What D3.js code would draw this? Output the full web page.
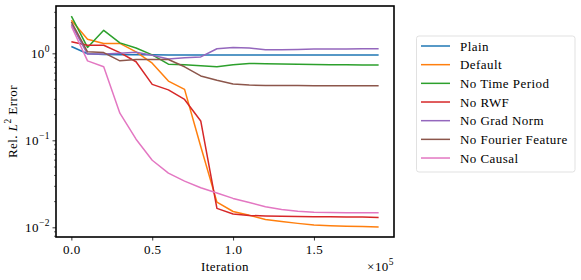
<!DOCTYPE html>
<html>
<head>
<meta charset="utf-8">
<script src="https://cdn.jsdelivr.net/npm/d3@7"></script>
<style>
  body { margin: 0; background: #fff; }
  svg text { font-family: "Liberation Serif", serif !important; font-weight: normal; fill: #000; letter-spacing: 0.45px; }
</style>
</head>
<body>
<div id="chart"></div>
<script>
// iterations, in units of 1e5
const iterations = [0, 0.1, 0.2, 0.3, 0.4, 0.5, 0.6, 0.7, 0.8, 0.9, 1.0, 1.1, 1.2, 1.3, 1.4, 1.5, 1.6, 1.7, 1.8, 1.9];

const plain = [1.2, 0.99, 0.97, 0.96, 0.96, 0.96, 0.955, 0.955, 0.955, 0.955, 0.955, 0.955, 0.955, 0.955, 0.955, 0.955, 0.955, 0.955, 0.955, 0.955];
const defaultRun = [2.4, 1.45, 1.3, 1.3, 1.04, 0.77, 0.48, 0.385, 0.085, 0.0195, 0.0152, 0.0138, 0.0123, 0.0117, 0.0111, 0.0106, 0.0104, 0.0103, 0.0102, 0.0101];
const noTimePeriod = [2.68, 1.17, 1.84, 1.32, 1.15, 0.96, 0.75, 0.74, 0.72, 0.70, 0.74, 0.765, 0.76, 0.755, 0.75, 0.745, 0.74, 0.738, 0.735, 0.733];
const noRWF = [1.36, 1.24, 1.24, 1.02, 0.8, 0.44, 0.38, 0.295, 0.167, 0.0165, 0.0142, 0.0137, 0.0135, 0.0134, 0.0133, 0.0132, 0.0132, 0.0131, 0.0131, 0.013];
const noGradNorm = [2.15, 0.98, 0.98, 1.0, 1.03, 0.95, 0.86, 0.89, 0.91, 1.13, 1.17, 1.15, 1.1, 1.1, 1.11, 1.12, 1.12, 1.12, 1.13, 1.13];
const noFourier = [2.3, 1.04, 1.02, 0.82, 0.85, 0.85, 0.85, 0.7, 0.55, 0.49, 0.445, 0.432, 0.428, 0.427, 0.426, 0.425, 0.425, 0.424, 0.424, 0.424];
const noCausal = [2.05, 0.82, 0.70, 0.205, 0.103, 0.059, 0.042, 0.034, 0.0285, 0.0248, 0.0215, 0.0193, 0.0172, 0.016, 0.0153, 0.0149, 0.0148, 0.0147, 0.0147, 0.0147];

const seriesNames = ['Plain', 'Default', 'No Time Period', 'No RWF', 'No Grad Norm', 'No Fourier Feature', 'No Causal'];
const seriesValues = [plain, defaultRun, noTimePeriod, noRWF, noGradNorm, noFourier, noCausal];
const colors = ['#1f77b4', '#ff7f0e', '#2ca02c', '#d62728', '#9467bd', '#8c564b', '#e377c2'];

const xTicks = [0, 0.5, 1.0, 1.5];
const yTicks = [1e-2, 1e-1, 1];
const yTickExp = ['\u22122', '\u22121', '0'];

const w = 581, h = 280;
const mLeft = 56, mRight = 394, mTop = 6, mBottom = 237;
const fs = 13, fsSup = 9.5;

const xScale = d3.scaleLinear().domain([-0.095, 1.995]).range([mLeft, mRight]);
const yScale = d3.scaleLog().domain([0.00774, 3.5]).range([mBottom, mTop]);

const svg = d3.select('#chart').append('svg')
    .attr('width', w)
    .attr('height', h)
    .attr('font-family', 'Liberation Serif');

// lines
const line = d3.line()
    .x((d, i) => xScale(iterations[i]))
    .y(d => yScale(d));

svg.append('g')
    .selectAll('path')
    .data(seriesValues)
    .enter()
    .append('path')
    .attr('d', d => line(d))
    .attr('fill', 'none')
    .attr('stroke', (d, i) => colors[i])
    .attr('stroke-width', 1.5)
    .attr('stroke-linejoin', 'round');

// x axis
const xAxis = d3.axisBottom(xScale)
    .tickValues(xTicks)
    .tickFormat(d3.format('.1f'))
    .tickSize(3.5)
    .tickPadding(4);

const gx = svg.append('g')
    .attr('transform', 'translate(0,' + mBottom + ')')
    .call(xAxis)
    .attr('font-family', null)
    .attr('font-size', fs);
gx.select('.domain').remove();
gx.selectAll('line').attr('stroke', '#000').attr('stroke-width', 0.8);

// y axis: minor ticks
const minorTicks = [];
for (let e = -3; e <= 0; e++) {
    for (let m = 2; m <= 9; m++) {
        const v = m * Math.pow(10, e);
        if (v > yScale.domain()[0] && v < yScale.domain()[1]) minorTicks.push(v);
    }
}
svg.append('g')
    .attr('transform', 'translate(' + mLeft + ',0)')
    .call(d3.axisLeft(yScale).tickValues(minorTicks).tickSize(2).tickFormat(''))
    .call(g => g.select('.domain').remove())
    .selectAll('line').attr('stroke', '#000').attr('stroke-width', 0.6);

const gy = svg.append('g')
    .attr('transform', 'translate(' + mLeft + ',0)')
    .call(d3.axisLeft(yScale).tickValues(yTicks).tickSize(3.5).tickFormat(''));
gy.select('.domain').remove();
gy.selectAll('line').attr('stroke', '#000').attr('stroke-width', 0.8);

const yLab = svg.append('g').selectAll('text')
    .data(yTicks)
    .enter()
    .append('text')
    .attr('x', mLeft - 6)
    .attr('y', d => yScale(d) + 5)
    .attr('text-anchor', 'end')
    .attr('font-size', fs);
yLab.append('tspan').text('10');
yLab.append('tspan')
    .attr('dy', -6)
    .attr('font-size', fsSup)
    .text((d, i) => yTickExp[i]);

// frame
svg.append('rect')
    .attr('x', mLeft)
    .attr('y', mTop)
    .attr('width', mRight - mLeft)
    .attr('height', mBottom - mTop)
    .attr('fill', 'none')
    .attr('stroke', '#000')
    .attr('stroke-width', 1.6);

// axis labels
svg.append('text')
    .attr('x', (mLeft + mRight) / 2)
    .attr('y', 271)
    .attr('text-anchor', 'middle')
    .attr('font-size', fs)
    .text('Iteration');

const off = svg.append('text')
    .attr('x', mRight)
    .attr('y', 271)
    .attr('text-anchor', 'end')
    .attr('font-size', fs);
off.append('tspan').text('\u00d710');
off.append('tspan').attr('dy', -6).attr('font-size', fsSup).text('5');

const yl = svg.append('text')
    .attr('transform', 'translate(17,' + ((mTop + mBottom) / 2) + ') rotate(-90)')
    .attr('text-anchor', 'middle')
    .attr('font-size', fs);
yl.append('tspan').text('Rel. ');
yl.append('tspan').attr('font-style', 'italic').text('L');
yl.append('tspan').attr('dy', -6).attr('font-size', fsSup).text('2');
yl.append('tspan').attr('dy', 6).text(' Error');

// legend
const legend = svg.append('g');
legend.append('rect')
    .attr('x', 416.5)
    .attr('y', 36)
    .attr('width', 158.5)
    .attr('height', 136)
    .attr('rx', 2.5)
    .attr('fill', '#fff')
    .attr('stroke', '#d9d9d9')
    .attr('stroke-width', 0.8);

const items = legend.selectAll('g.item')
    .data(seriesNames)
    .enter()
    .append('g')
    .attr('class', 'item')
    .attr('transform', (d, i) => 'translate(0,' + (46 + i * 18.67) + ')');
items.append('line')
    .attr('x1', 421)
    .attr('x2', 450)
    .attr('stroke', (d, i) => colors[i])
    .attr('stroke-width', 1.5);
items.append('text')
    .attr('x', 460)
    .attr('y', 4.5)
    .attr('font-size', fs)
    .text(d => d);
</script>
</body>
</html>
